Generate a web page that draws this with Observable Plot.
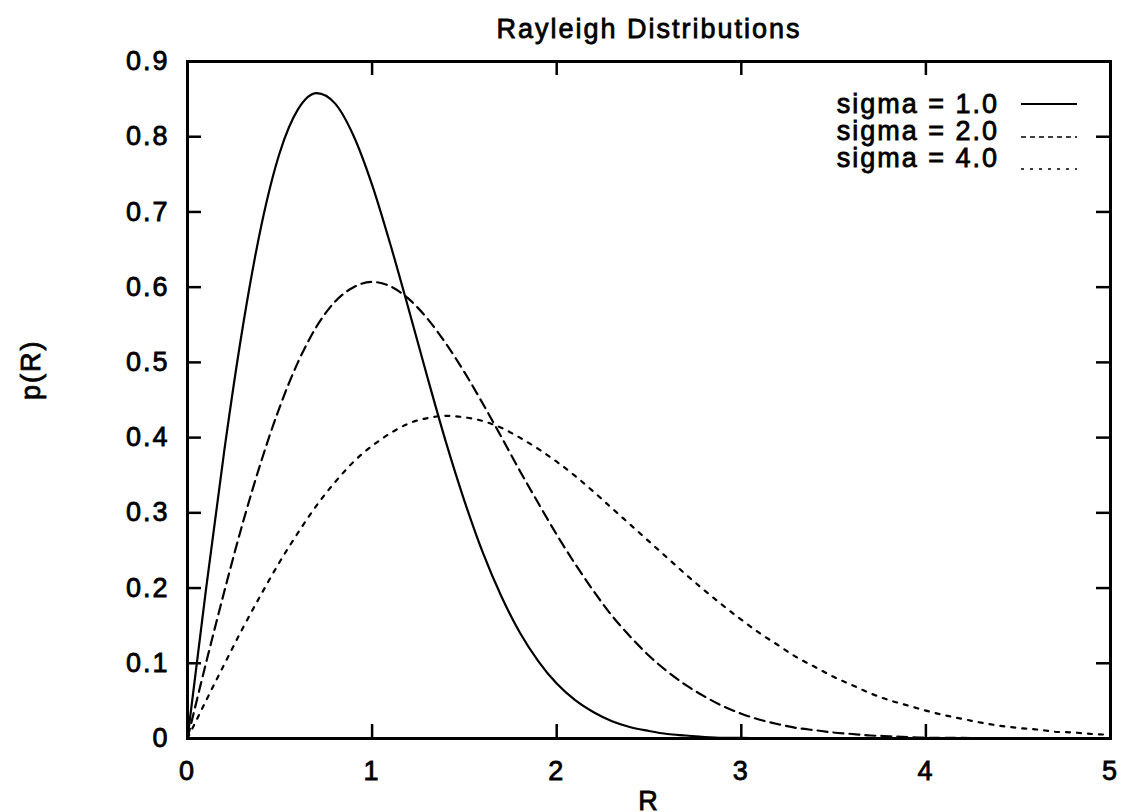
<!DOCTYPE html>
<html>
<head>
<meta charset="utf-8">
<script src="https://cdn.jsdelivr.net/npm/d3@7"></script>
<script src="https://cdn.jsdelivr.net/npm/@observablehq/plot@0.6"></script>
<style>
  html, body { margin: 0; padding: 0; background: #fff; }
  #wrap { position: relative; width: 1121px; height: 812px; overflow: hidden; }
  #legend { position: absolute; left: 0; top: 0; pointer-events: none; }
  svg text { font-family: "Liberation Sans", Arial, Helvetica, sans-serif; stroke: #000; stroke-width: 0.8px; fill: #000; }
</style>
</head>
<body>
<div id="wrap"></div>
<script>
// ---- Data ----
const title = "Rayleigh Distributions";
const xLabel = "R";
const yLabel = "p(R)";
const xTicks = [0, 1, 2, 3, 4, 5];
const yTicks = [0, 0.1, 0.2, 0.3, 0.4, 0.5, 0.6, 0.7, 0.8, 0.9];
const seriesNames = ["sigma = 1.0", "sigma = 2.0", "sigma = 4.0"];

// R positions at which the curves were read
const rValues = [0, 0.1, 0.2, 0.3, 0.4, 0.5, 0.6, 0.7, 0.8, 0.9,
  1.0, 1.1, 1.2, 1.3, 1.4, 1.5, 1.6, 1.7, 1.8, 1.9,
  2.0, 2.1, 2.2, 2.3, 2.4, 2.5, 2.6, 2.7, 2.8, 2.9,
  3.0, 3.1, 3.2, 3.3, 3.4, 3.5, 3.6, 3.7, 3.8, 3.9,
  4.0, 4.1, 4.2, 4.3, 4.4, 4.5, 4.6, 4.7, 4.8, 4.9, 5.0];

const sigma1 = [0, 0.198, 0.384, 0.548, 0.682, 0.779, 0.837, 0.858, 0.844, 0.801,
  0.736, 0.656, 0.569, 0.480, 0.394, 0.316, 0.247, 0.189, 0.141, 0.103,
  0.073, 0.051, 0.035, 0.023, 0.015, 0.010, 0.006, 0.004, 0.002, 0.001,
  0.001, 0, 0, 0, 0, 0, 0, 0, 0, 0,
  0, 0, 0, 0, 0, 0, 0, 0, 0, 0, 0];

const sigma2 = [0, 0.100, 0.196, 0.287, 0.369, 0.441, 0.501, 0.548, 0.581, 0.600,
  0.607, 0.601, 0.584, 0.558, 0.525, 0.487, 0.445, 0.401, 0.356, 0.313,
  0.271, 0.232, 0.196, 0.163, 0.135, 0.110, 0.089, 0.071, 0.056, 0.043,
  0.033, 0.025, 0.019, 0.014, 0.011, 0.008, 0.006, 0.004, 0.003, 0.002,
  0.001, 0.001, 0.001, 0, 0, 0, 0, 0, 0, 0, 0];

const sigma4 = [0, 0.050, 0.099, 0.147, 0.192, 0.235, 0.274, 0.310, 0.341, 0.368,
  0.389, 0.406, 0.419, 0.426, 0.429, 0.427, 0.422, 0.413, 0.400, 0.385,
  0.368, 0.349, 0.328, 0.306, 0.284, 0.262, 0.240, 0.218, 0.197, 0.177,
  0.158, 0.140, 0.124, 0.108, 0.095, 0.082, 0.071, 0.060, 0.051, 0.044,
  0.037, 0.031, 0.026, 0.021, 0.017, 0.014, 0.012, 0.009, 0.008, 0.006, 0.005];

// ---- Build table ----
const seriesValues = [sigma1, sigma2, sigma4];
const rows = [];
seriesNames.forEach((name, s) => {
  rValues.forEach((r, i) => rows.push({series: name, r, p: seriesValues[s][i]}));
});

// ---- Styles (not data) ----
const FONT = "'Liberation Sans', Arial, Helvetica, sans-serif";
const dashStyles = {"sigma = 1.0": null, "sigma = 2.0": "10,6", "sigma = 4.0": "4,7"};
const legendDash = {"sigma = 1.0": null, "sigma = 2.0": "5,4", "sigma = 4.0": "3,6"};

const W = 1121, H = 812;
const mL = 187, mR = 11, mT = 61, mB = 74;
const frameW = W - mL - mR, frameH = H - mT - mB;
const tick = 14;

const marks = [
  Plot.frame({stroke: "#000", strokeWidth: 3}),
  Plot.tickY(yTicks, {y: d => d, insetRight: frameW - tick, stroke: "#000", strokeWidth: 2.5}),
  Plot.tickY(yTicks, {y: d => d, insetLeft: frameW - tick, stroke: "#000", strokeWidth: 2.5}),
  Plot.tickX(xTicks, {x: d => d, insetTop: frameH - tick, stroke: "#000", strokeWidth: 2.5}),
  Plot.tickX(xTicks, {x: d => d, insetBottom: frameH - tick, stroke: "#000", strokeWidth: 2.5}),
  ...seriesNames.map(name => Plot.line(rows.filter(d => d.series === name), {
    x: "r", y: "p", curve: "monotone-x", stroke: "#000", strokeWidth: 2.2,
    strokeDasharray: dashStyles[name]
  })),
  Plot.axisX({ticks: xTicks, tickSize: 0, tickPadding: 22, fontSize: 27, label: null, tickFormat: d => String(d)}),
  Plot.axisY({ticks: yTicks, tickSize: 0, tickPadding: 18, fontSize: 27, label: null,
    tickFormat: d => d === 0 ? "0" : d.toFixed(1)}),
  Plot.text([title], {frameAnchor: "top", dy: -32, lineAnchor: "middle", fontSize: 27, text: d => d}),
  Plot.text([xLabel], {frameAnchor: "bottom", dy: 52, lineAnchor: "top", fontSize: 27, text: d => d}),
  Plot.text([yLabel], {frameAnchor: "left", dx: -156, rotate: -90, lineAnchor: "middle", fontSize: 27, text: d => d})
];

const chart = Plot.plot({
  width: W, height: H,
  marginLeft: mL, marginRight: mR, marginTop: mT, marginBottom: mB,
  x: {domain: [0, 5]},
  y: {domain: [0, 0.9]},
  style: {fontFamily: FONT, fontSize: "27px", letterSpacing: "2px", color: "#000", background: "#fff", overflow: "visible"},
  marks
});

const wrap = document.getElementById("wrap");
wrap.appendChild(chart);

// ---- Legend overlay ----
const legendTextRight = 997;
const legendBaselines = [113, 140, 167];
const legendLineY = [104, 137, 169];
const lg = d3.select(wrap).append("svg")
  .attr("id", "legend").attr("width", W).attr("height", H);
seriesNames.forEach((name, i) => {
  lg.append("text")
    .attr("x", legendTextRight + 2).attr("y", legendBaselines[i])
    .attr("text-anchor", "end")
    .style("font-family", FONT).style("font-size", "27px").style("letter-spacing", "2px")
    .text(name);
  lg.append("line")
    .attr("x1", 1021).attr("x2", 1077)
    .attr("y1", legendLineY[i]).attr("y2", legendLineY[i])
    .attr("stroke", "#000")
    .attr("stroke-width", i === 0 ? 2 : 1.3)
    .attr("stroke-dasharray", legendDash[name]);
});
</script>
</body>
</html>
